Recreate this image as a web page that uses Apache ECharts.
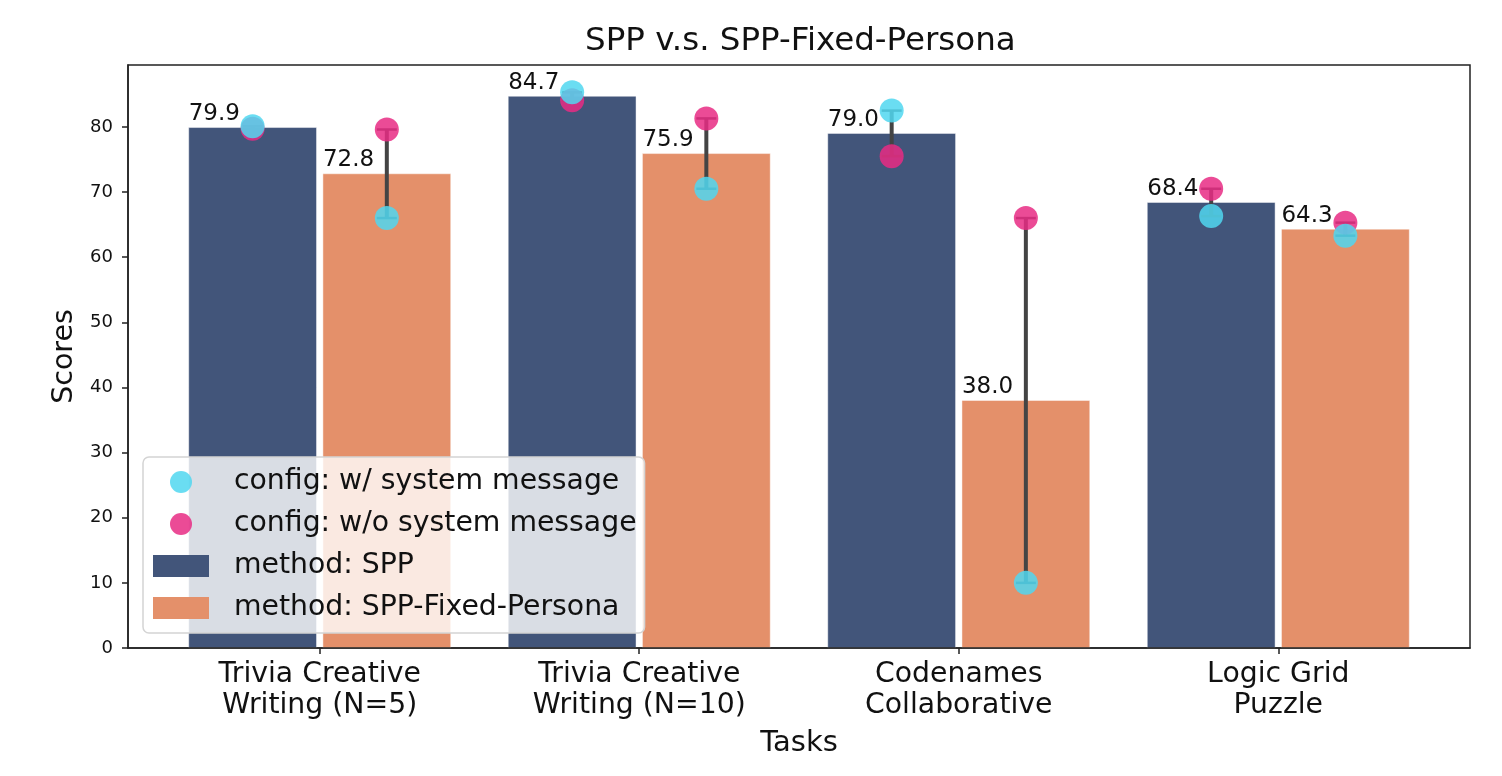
<!DOCTYPE html>
<html>
<head>
<meta charset="utf-8">
<title>SPP v.s. SPP-Fixed-Persona</title>
<script src="https://cdn.jsdelivr.net/npm/echarts@6.0.0/dist/echarts.min.js"></script>
<style>
    html, body { margin: 0; padding: 0; background: #fff; }
    #main { width: 1502px; height: 776px; }
</style>
</head>
<body>
<div id="main"></div>
<script>
// 数据
var categories = ['Trivia Creative\nWriting (N=5)', 'Trivia Creative\nWriting (N=10)', 'Codenames\nCollaborative', 'Logic Grid\nPuzzle'];
var sppScores = [79.9, 84.7, 79.0, 68.4];
var fixedScores = [72.8, 75.9, 38.0, 64.3];
// 两种配置下的单独得分 (SPP / SPP-Fixed-Persona)
var sppWithSys = [80.1, 85.3, 82.5, 66.3];
var sppNoSys = [79.7, 84.1, 75.5, 70.5];
var fixedWithSys = [66.0, 70.5, 10.0, 63.3];
var fixedNoSys = [79.6, 81.3, 66.0, 65.3];
var yTicks = [0, 10, 20, 30, 40, 50, 60, 70, 80];
var xTicks = [0, 1, 2, 3];

var FONT = '"DejaVu Sans", "Liberation Sans", sans-serif';
var DODGE = 0.21;

var myChart = echarts.init(document.getElementById('main'));

function barRender(from, to) {
    return function (params, api) {
        var x = api.value(0), v = api.value(1);
        var tl = api.coord([x + from, v]);
        var br = api.coord([x + to, 0]);
        return {
            type: 'group',
            children: [{
                type: 'rect',
                shape: { x: tl[0], y: tl[1], width: br[0] - tl[0], height: br[1] - tl[1] },
                style: { fill: api.visual('color'), stroke: 'rgba(255,255,255,0.45)', lineWidth: 1 }
            }, {
                type: 'text',
                x: tl[0],
                y: tl[1] - 2,
                style: {
                    text: v.toFixed(1), fill: '#111',
                    fontSize: 23, fontFamily: FONT,
                    align: 'left', verticalAlign: 'bottom'
                }
            }]
        };
    };
}

// 误差线: 两个配置点之间的竖线 + 端帽
function errRender(params, api) {
    var x = api.value(0);
    var p1 = api.coord([x, api.value(1)]);
    var p2 = api.coord([x, api.value(2)]);
    var cap = 10;
    var lineStyle = { stroke: '#444', lineWidth: 4 };
    var capStyle = { stroke: '#444', lineWidth: 2.5 };
    return {
        type: 'group',
        children: [
            { type: 'line', shape: { x1: p1[0], y1: p1[1], x2: p2[0], y2: p2[1] }, style: lineStyle },
            { type: 'line', shape: { x1: p1[0] - cap, y1: p1[1], x2: p1[0] + cap, y2: p1[1] }, style: capStyle },
            { type: 'line', shape: { x1: p2[0] - cap, y1: p2[1], x2: p2[0] + cap, y2: p2[1] }, style: capStyle }
        ]
    };
}

var sppBars = [], fixedBars = [], errData = [];
var withSysPts = [], noSysPts = [];
for (var i = 0; i < categories.length; i++) {
    sppBars.push([i, sppScores[i]]);
    fixedBars.push([i, fixedScores[i]]);
    errData.push([i - DODGE, Math.min(sppWithSys[i], sppNoSys[i]), Math.max(sppWithSys[i], sppNoSys[i])]);
    errData.push([i + DODGE, Math.min(fixedWithSys[i], fixedNoSys[i]), Math.max(fixedWithSys[i], fixedNoSys[i])]);
    withSysPts.push([i - DODGE, sppWithSys[i]], [i + DODGE, fixedWithSys[i]]);
    noSysPts.push([i - DODGE, sppNoSys[i]], [i + DODGE, fixedNoSys[i]]);
}

var option = {
    animation: false,
    backgroundColor: '#fff',
    textStyle: { fontFamily: FONT },
    title: {
        text: 'SPP v.s. SPP-Fixed-Persona',
        left: 585,
        top: 25,
        padding: 0,
        textStyle: { fontSize: 32.5, fontWeight: 'normal', color: '#111', fontFamily: FONT }
    },
    grid: {
        left: 128, right: 32, top: 65, bottom: 128,
        show: true, borderColor: '#222', borderWidth: 1.5,
        outerBoundsMode: 'none'
    },
    legend: {
        orient: 'vertical',
        left: 143,
        top: 457,
        padding: [10, 8, 10, 10],
        itemGap: 12,
        itemWidth: 56,
        itemHeight: 22,
        backgroundColor: 'rgba(255,255,255,0.8)',
        borderColor: '#d4d4d4',
        borderWidth: 1.5,
        borderRadius: 6,
        textStyle: { fontSize: 28.3, color: '#111', fontFamily: FONT, lineHeight: 30, padding: [0, 0, 0, 20] },
        data: [
            { name: 'config: w/ system message', icon: 'circle' },
            { name: 'config: w/o system message', icon: 'circle' },
            { name: 'method: SPP', icon: 'rect' },
            { name: 'method: SPP-Fixed-Persona', icon: 'rect' }
        ]
    },
    xAxis: {
        type: 'value',
        min: -0.6,
        max: 3.6,
        z: 10,
        name: 'Tasks',
        nameLocation: 'middle',
        nameGap: 81,
        nameTextStyle: { fontSize: 29, color: '#111', fontFamily: FONT },
        splitLine: { show: false },
        axisLine: { show: true, onZero: false, lineStyle: { color: '#222', width: 1.5 } },
        axisTick: { show: true, customValues: xTicks, length: 6, lineStyle: { color: '#222', width: 1.5 } },
        axisLabel: {
            customValues: xTicks,
            margin: 11,
            fontSize: 28.3,
            lineHeight: 31,
            color: '#111',
            fontFamily: FONT,
            formatter: function (v) { return categories[Math.round(v)]; }
        }
    },
    yAxis: {
        type: 'value',
        min: 0,
        max: 89.5,
        z: 10,
        name: 'Scores',
        nameLocation: 'middle',
        nameRotate: 90,
        nameGap: 48,
        nameTextStyle: { fontSize: 28.5, color: '#111', fontFamily: FONT },
        splitLine: { show: false },
        axisLine: { show: true, onZero: false, lineStyle: { color: '#222', width: 1.5 } },
        axisTick: { show: true, customValues: yTicks, length: 6, lineStyle: { color: '#222', width: 1.5 } },
        axisLabel: { customValues: yTicks, margin: 15, fontSize: 18, color: '#111', fontFamily: FONT }
    },
    series: [
        {
            name: 'method: SPP',
            type: 'custom',
            renderItem: barRender(-0.41, -0.01),
            encode: { x: 0, y: 1 },
            itemStyle: { color: '#42557a' },
            data: sppBars
        },
        {
            name: 'method: SPP-Fixed-Persona',
            type: 'custom',
            renderItem: barRender(0.01, 0.41),
            encode: { x: 0, y: 1 },
            itemStyle: { color: '#e4906a' },
            data: fixedBars
        },
        {
            name: 'errorbar',
            type: 'custom',
            renderItem: errRender,
            encode: { x: 0, y: [1, 2] },
            data: errData
        },
        {
            name: 'config: w/o system message',
            type: 'scatter',
            symbolSize: 24,
            itemStyle: { color: 'rgba(232,44,132,0.85)', opacity: 1 },
            data: noSysPts
        },
        {
            name: 'config: w/ system message',
            type: 'scatter',
            symbolSize: 24,
            itemStyle: { color: 'rgba(80,215,240,0.85)', opacity: 1 },
            data: withSysPts
        }
    ]
};

myChart.setOption(option);
</script>
</body>
</html>
